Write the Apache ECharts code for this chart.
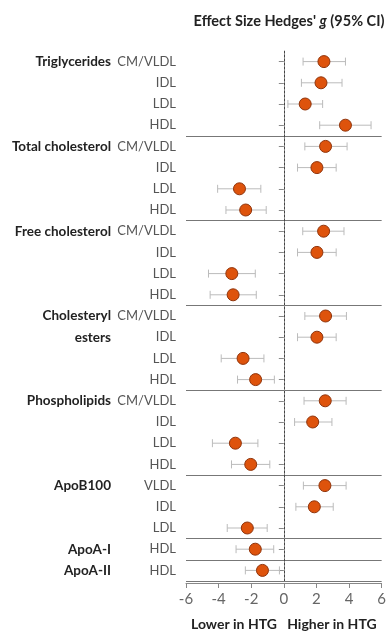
<!DOCTYPE html>
<html>
<head>
<meta charset="utf-8">
<script src="https://cdn.jsdelivr.net/npm/echarts@6/dist/echarts.min.js"></script>
<style>
  html, body { margin: 0; padding: 0; background: #fff; }
  #chart { width: 389px; height: 636px; }
</style>
</head>
<body>
<div id="chart"></div>
<script>
// Row labels (top to bottom) and the group title shown beside the first row(s) of each group
const rowLabels = [
  'CM/VLDL', 'IDL', 'LDL', 'HDL',
  'CM/VLDL', 'IDL', 'LDL', 'HDL',
  'CM/VLDL', 'IDL', 'LDL', 'HDL',
  'CM/VLDL', 'IDL', 'LDL', 'HDL',
  'CM/VLDL', 'IDL', 'LDL', 'HDL',
  'VLDL', 'IDL', 'LDL',
  'HDL',
  'HDL'
];
const groupLabels = [
  'Triglycerides', '', '', '',
  'Total cholesterol', '', '', '',
  'Free cholesterol', '', '', '',
  'Cholesteryl', 'esters', '', '',
  'Phospholipids', '', '', '',
  'ApoB100', '', '',
  'ApoA-I',
  'ApoA-II'
];
// Rows where a new group begins (a separator line is drawn above them)
const groupStarts = [4, 8, 12, 16, 20, 23, 24];

// Hedges' g with 95% CI
const effect = [
  2.46, 2.28, 1.31, 3.78,
  2.56, 2.03, -2.72, -2.34,
  2.44, 2.03, -3.19, -3.11,
  2.56, 2.03, -2.50, -1.73,
  2.54, 1.77, -2.97, -2.03,
  2.52, 1.87, -2.24,
  -1.75,
  -1.31
];
const ciLow = [
  1.18, 1.08, 0.25, 2.20,
  1.29, 0.84, -4.06, -3.55,
  1.16, 0.84, -4.62, -4.52,
  1.29, 0.84, -3.84, -2.84,
  1.24, 0.66, -4.38, -3.21,
  1.20, 0.74, -3.47,
  -2.93,
  -2.36
];
const ciHigh = [
  3.78, 3.57, 2.38, 5.35,
  3.88, 3.21, -1.41, -1.08,
  3.69, 3.21, -1.75, -1.69,
  3.84, 3.21, -1.22, -0.58,
  3.82, 2.95, -1.59, -0.86,
  3.82, 3.03, -1.02,
  -0.62,
  -0.27
];
const xTicks = { min: -6, max: 6, step: 2 };

const chart = echarts.init(document.getElementById('chart'));
const fontFamily = 'Lato, "Open Sans", sans-serif';

const pointData = effect.map((v, i) => [v, i]);
const ciData = effect.map((v, i) => [ciLow[i], ciHigh[i], i]);

chart.setOption({
  animation: false,
  title: {
    text: "{b|Effect Size Hedges' }{i|g}{b| (95% CI)}",
    left: 284,
    top: 9,
    textAlign: 'center',
    textStyle: {
      rich: {
        b: { fontFamily, fontSize: 14.5, fontWeight: 'bold', color: '#222' },
        i: { fontFamily, fontSize: 14.5, fontWeight: 'bold', fontStyle: 'italic', color: '#222' }
      }
    }
  },
  grid: { left: 186, right: 6, top: 51, bottom: 52 },
  xAxis: {
    type: 'value',
    min: xTicks.min,
    max: xTicks.max,
    interval: xTicks.step,
    offset: 2,
    axisLine: { show: true, lineStyle: { color: '#888', width: 1 } },
    axisTick: { show: true, length: 5, lineStyle: { color: '#888' } },
    axisLabel: { fontFamily, fontSize: 15, color: '#666', margin: 9 },
    splitLine: { show: false },
    name: 'Lower in HTG   Higher in HTG',
    nameLocation: 'middle',
    nameGap: 34,
    nameTextStyle: { fontFamily, fontSize: 14, fontWeight: 'bold', color: '#222' }
  },
  yAxis: [
    {
      type: 'category',
      data: rowLabels,
      inverse: true,
      axisLine: { show: true, lineStyle: { color: '#888' } },
      axisTick: { show: true, alignWithLabel: true, length: 5, lineStyle: { color: '#888' } },
      axisLabel: { fontFamily, fontSize: 13, color: '#555', margin: 10, interval: 0 },
      splitLine: {
        show: true,
        interval: (index) => groupStarts.indexOf(index) >= 0,
        lineStyle: { color: '#777', width: 1 }
      }
    },
    {
      type: 'category',
      data: groupLabels,
      inverse: true,
      position: 'left',
      offset: 67,
      axisLine: { show: false },
      axisTick: { show: false },
      axisLabel: { fontFamily, fontSize: 13.5, fontWeight: 'bold', color: '#222', margin: 8, interval: 0 },
      splitLine: { show: false }
    }
  ],
  series: [
    {
      type: 'custom',
      name: 'CI',
      data: ciData,
      encode: { x: [0, 1], y: 2 },
      z: 2,
      renderItem: (params, api) => {
        const row = api.value(2);
        const a = api.coord([api.value(0), row]);
        const b = api.coord([api.value(1), row]);
        const h = 4;
        const style = { stroke: '#bbb', lineWidth: 1 };
        return {
          type: 'group',
          children: [
            { type: 'line', shape: { x1: a[0], y1: a[1], x2: b[0], y2: b[1] }, style },
            { type: 'line', shape: { x1: a[0], y1: a[1] - h, x2: a[0], y2: a[1] + h }, style },
            { type: 'line', shape: { x1: b[0], y1: b[1] - h, x2: b[0], y2: b[1] + h }, style }
          ]
        };
      }
    },
    {
      type: 'scatter',
      name: 'g',
      data: pointData,
      symbol: 'circle',
      symbolSize: 12,
      z: 3,
      itemStyle: { color: '#de530c', borderColor: '#8f330a', borderWidth: 1, opacity: 1 },
      markLine: {
        silent: true,
        symbol: 'none',
        label: { show: false },
        lineStyle: { color: '#444', type: [2, 2], width: 1 },
        data: [{ xAxis: 0 }]
      }
    }
  ]
});
</script>
</body>
</html>
